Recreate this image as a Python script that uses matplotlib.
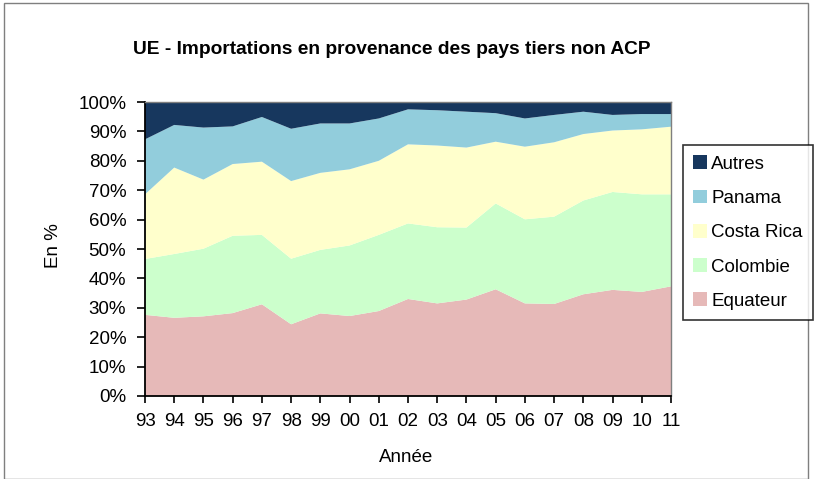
import matplotlib
matplotlib.use('Agg')

import matplotlib.pyplot as plt
from matplotlib.patches import Rectangle
import numpy as np

# Years (two-digit labels) and shares in %
years = ['93', '94', '95', '96', '97', '98', '99', '00', '01', '02',
         '03', '04', '05', '06', '07', '08', '09', '10', '11']
equateur = [27.6, 26.6, 27.1, 28.2, 31.2, 24.4, 28.1, 27.2, 28.9, 33.0,
            31.5, 32.8, 36.3, 31.5, 31.3, 34.6, 36.1, 35.4, 37.3]
colombie = [19.0, 21.7, 23.0, 26.3, 23.6, 22.3, 21.6, 24.0, 25.9, 25.7,
            25.9, 24.5, 29.2, 28.6, 29.7, 31.9, 33.3, 33.2, 31.3]
costa_rica = [22.0, 29.4, 23.5, 24.4, 24.9, 26.4, 26.2, 25.9, 25.2, 26.9,
              27.8, 27.2, 21.0, 24.7, 25.3, 22.6, 20.9, 22.1, 23.0]
panama = [18.7, 14.5, 17.7, 12.8, 15.2, 17.8, 16.8, 15.6, 14.4, 11.9,
          12.0, 12.2, 9.7, 9.6, 9.3, 7.6, 5.3, 5.2, 4.3]
autres = [12.7, 7.8, 8.7, 8.3, 5.1, 9.1, 7.3, 7.3, 5.6, 2.5,
          2.8, 3.3, 3.8, 5.6, 4.4, 3.3, 4.4, 4.1, 4.1]

labels = ['Equateur', 'Colombie', 'Costa Rica', 'Panama', 'Autres']
colors = ['#E6B9B8', '#CCFFCC', '#FFFFCC', '#92CDDC', '#17375E']

plt.rcParams['font.family'] = ['Liberation Sans', 'DejaVu Sans']

fig = plt.figure(figsize=(8.16, 4.79), dpi=100)
W, H = 816, 479

# outer chart frame
fig.patches.append(Rectangle((4 / W, 0), 804 / W, 1 - 3 / H, transform=fig.transFigure,
                             fill=False, edgecolor='#7f7f7f', linewidth=1.0))

ax = fig.add_axes([145 / W, (H - 396) / H, 526 / W, 294 / H])

x = np.arange(len(years))
data = np.array([equateur, colombie, costa_rica, panama, autres])
data = data / data.sum(axis=0) * 100
polys = ax.stackplot(x, data, colors=colors, labels=labels, linewidth=0)

ax.set_xlim(0, len(years) - 1)
ax.set_ylim(0, 100)
ax.set_xticks(x)
ax.set_xticklabels(years)
ax.set_yticks(np.arange(0, 101, 10))
ax.set_yticklabels([f'{v}%' for v in range(0, 101, 10)])
ax.tick_params(axis='both', labelsize=13.5, direction='out', width=1.2, color='black')
ax.tick_params(axis='x', length=5, pad=7)
ax.tick_params(axis='y', length=6, pad=7.5)

for side in ['left', 'bottom']:
    ax.spines[side].set_color('black')
    ax.spines[side].set_linewidth(1.3)
for side in ['top', 'right']:
    ax.spines[side].set_color('#7f7f7f')
    ax.spines[side].set_linewidth(1.0)

# axis titles
fig.text(54 / W, 1 - 246 / H, 'En %', rotation=90, ha='center', va='center', fontsize=13.5)
fig.text(406 / W, 1 - 461.5 / H, 'Année', ha='center', va='baseline', fontsize=13.5)

fig.text(392 / W, 1 - 54.5 / H, 'UE - Importations en provenance des pays tiers non ACP',
         ha='center', va='baseline', fontsize=13.8, fontweight='bold')

handles = polys[::-1]
leg = fig.legend(handles, labels[::-1], loc='upper left',
                 bbox_to_anchor=(683 / W, 1 - 145 / H), fontsize=13.5,
                 frameon=True, fancybox=False, handlelength=0.75, handleheight=0.75,
                 handletextpad=0.2, labelspacing=0.9, borderpad=0.55,
                 borderaxespad=0)
leg.get_frame().set_edgecolor('black')
leg.get_frame().set_linewidth(1.2)

fig.savefig('out.png', dpi=100, facecolor='white')
